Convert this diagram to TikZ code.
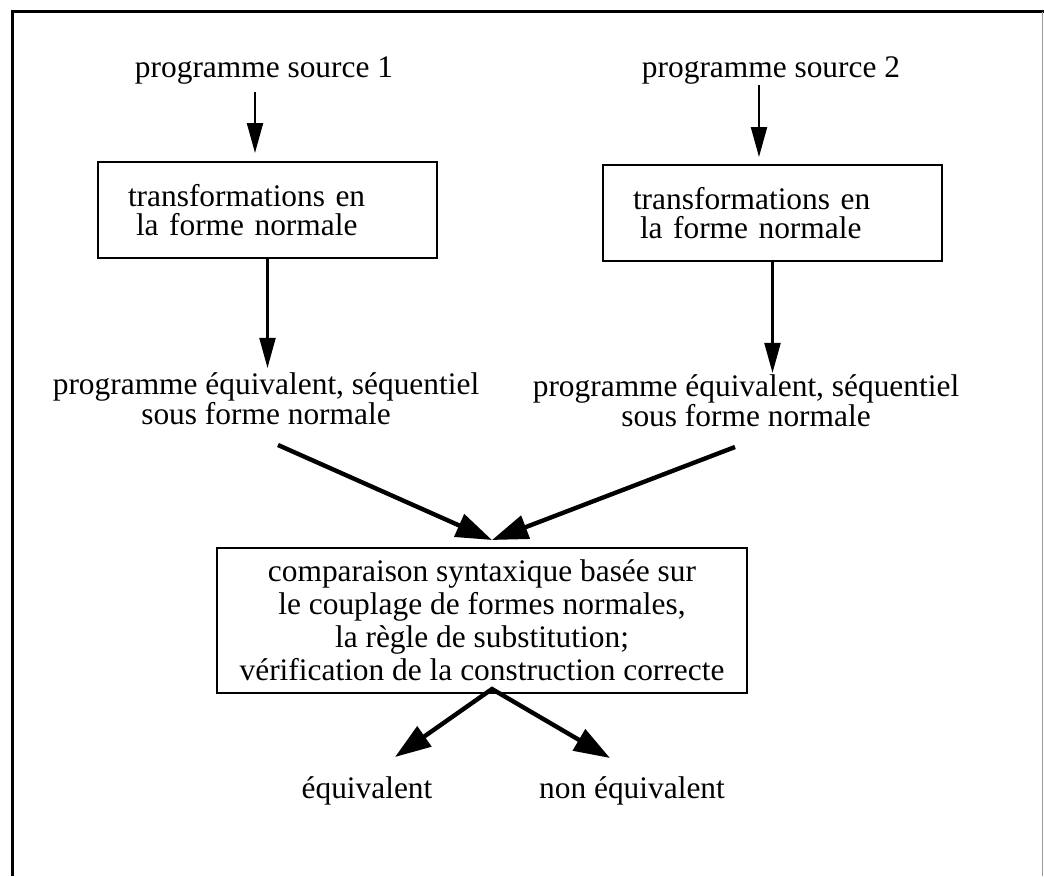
\documentclass[tikz,border=0pt]{standalone}
\usepackage{fontspec}
\setmainfont{Liberation Serif}
\usetikzlibrary{arrows.meta,calc}
\begin{document}
\begin{tikzpicture}[x=1pt,y=-1pt,
  txt/.style={font=\fontsize{31.4}{30}\selectfont, inner sep=0pt, outer sep=0pt, align=center},
  procbox/.style={draw, line width=2.6pt, outer sep=0pt,
    font=\fontsize{31.4}{29.5}\selectfont, align=left,
    text width=279pt, inner xsep=30pt, inner ysep=0pt,
    minimum height=96pt, anchor=north west},
  cmpbox/.style={draw, line width=2.6pt, outer sep=0pt,
    font=\fontsize{31.4}{33}\selectfont, align=center,
    minimum width=530pt, minimum height=145pt, inner sep=0pt},
  thin arrow/.style={line width=2.2pt, -{Triangle[length=30pt,width=16pt]}},
  thick arrow/.style={line width=4.4pt, -{Triangle[length=36pt,width=24pt]}},
  fork arrow/.style={line width=4.4pt, line join=miter,
    {Triangle[length=36pt,width=24pt]}-{Triangle[length=36pt,width=24pt]}},
]
\useasboundingbox (0,0) rectangle (1044,876);

% outer frame: left and top rules, faint right rule
\draw[line width=3pt] (12,876) -- (12,11.5) -- (1044,11.5);
\draw[line width=1pt, black!40] (1042.5,11.5) -- (1042.5,876);

% sources
\node[txt, anchor=base] (src1) at (264,77) {programme source 1};
\node[txt, anchor=base] (src2) at (771,77) {programme source 2};

% normalisation boxes
\node[procbox] (nf1) at (98,162) {transformations en\\\hspace*{8pt}la forme normale};
\node[procbox] (nf2) at (603,165) {transformations en\\\hspace*{7pt}la forme normale};

% equivalent sequential programs
\node[txt] (eq1) at (266,399) {programme équivalent, séquentiel\\sous forme normale};
\node[txt] (eq2) at (746,401) {programme équivalent, séquentiel\\sous forme normale};

% comparison box
\node[cmpbox] (cmp) at (482,620.5) {comparaison syntaxique basée sur\\le couplage de formes normales,\\la règle de substitution;\\vérification de la construction correcte};

% results
\node[txt, anchor=base] (yes) at (367,798) {équivalent};
\node[txt, anchor=base] (no) at (632,798) {non équivalent};

% connector end points
\coordinate (a1) at (255,92);
\coordinate (a2) at (759,85);
\coordinate (l1) at ($(eq1.north)+(1,-5)$);
\coordinate (l2) at ($(eq2.north)+(26,-2)$);
\coordinate (d1) at (278,445);
\coordinate (d2) at (735,447);
\coordinate (meet) at ($(cmp.north)+(10,-8)$);
\coordinate (apex) at ($(cmp.south)+(10,-4)$);
\coordinate (t1) at (395,757);
\coordinate (t2) at (610,758);

% connectors
\draw[thin arrow, shorten >=9pt] (a1) -- (a1 |- nf1.north);
\draw[thin arrow, shorten >=8pt] (a2) -- (a2 |- nf2.north);
\draw[thin arrow] (nf1.south) -- (nf1.south |- l1);
\draw[thin arrow] (nf2.south) -- (nf2.south |- l2);
\draw[thick arrow] (d1) -- (meet);
\draw[thick arrow] (d2) -- (meet);
\draw[fork arrow] (t1) -- (apex) -- (t2);
\end{tikzpicture}
\end{document}
